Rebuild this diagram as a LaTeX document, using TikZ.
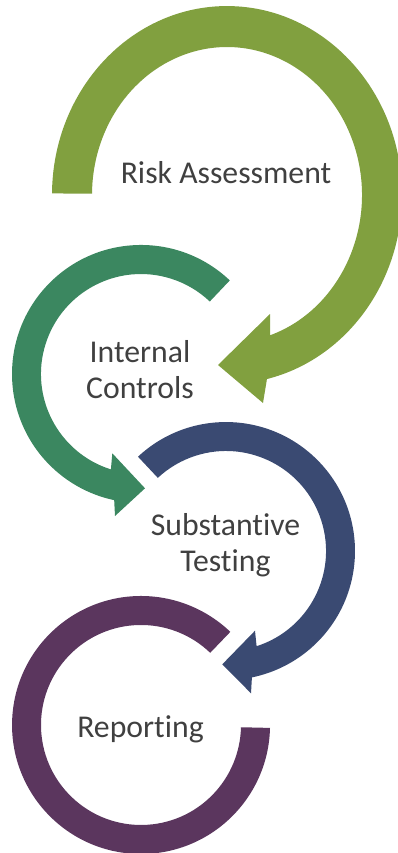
\documentclass[tikz,border=0pt]{standalone}
\usepackage{xcolor}
\usepackage{fontspec}
\setmainfont{Carlito}[Ligatures=NoCommon]
\usepackage{tikz}

\definecolor{riskgreen}{RGB}{129,160,63}
\definecolor{ctrlgreen}{RGB}{59,135,96}
\definecolor{testblue}{RGB}{58,74,114}
\definecolor{reppurple}{RGB}{91,54,94}
\definecolor{txtgray}{RGB}{64,64,64}

\begin{document}
\begin{tikzpicture}[x=0.75pt,y=0.75pt,yscale=-1,xscale=1,
    lbl/.style={text=txtgray,font=\fontsize{23.8}{27}\selectfont,align=center,inner sep=0.75pt,anchor=base}]
        \useasboundingbox (0,0) rectangle (398,853);

        \fill [riskgreen] (52,193.4) arc [start angle=180.5, end angle=436.8, x radius=175, y radius=189] -- (263,403) -- (218,365) -- (270,314) -- (270.05,335.3) arc [start angle=431.4, end angle=180.5, x radius=135, y radius=148] -- cycle ;
        \fill [ctrlgreen] (229.8,280.4) arc [start angle=-46.5, end angle=-258, radius=129] -- (115,516) -- (145,488.3) -- (112.3,453.3) -- (110.9,469.4) arc [start angle=-252.5, end angle=-46.5, radius=100] -- cycle ;
        \fill [testblue] (138,456.7) arc [start angle=-133, end angle=78.4, radius=129] -- (251,693.3) -- (222.3,664.3) -- (255,630.7) -- (256.6,646.2) arc [start angle=72.2, end angle=-133, radius=100] -- cycle ;
        \fill [reppurple] (270,727.9) arc [start angle=1.3, end angle=313.8, radius=129] -- (210.2,652.8) arc [start angle=313.8, end angle=1.3, radius=100] -- cycle ;

        \draw (226,183) node (risk) [lbl] {Risk Assessment};
        \draw (140,398) node (ctrl) [lbl] {Internal\\Controls};
        \draw (225.5,571) node (test) [lbl] {Substantive\\Testing};
        \draw (140.5,737) node (rep) [lbl] {Reporting};
\end{tikzpicture}
\end{document}
